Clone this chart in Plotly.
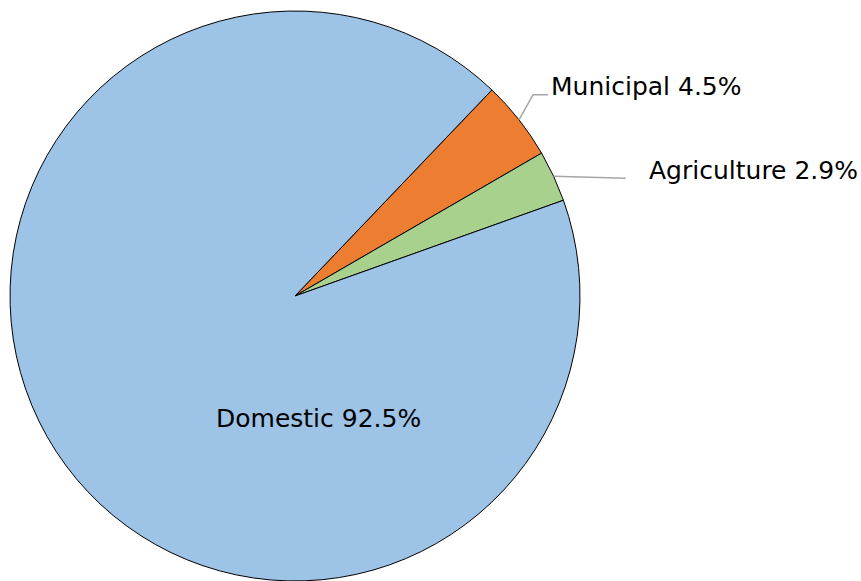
import math

import plotly.graph_objects as go

# slice data, in drawing order (clockwise from the start angle)
labels = ["Municipal", "Agriculture", "Domestic"]
values = [4.5, 2.9, 92.5]
colors = ["#ED7D31", "#A9D18E", "#9DC3E6"]
start_angle = 43.7  # degrees clockwise from 12 o'clock

W, H = 861, 581
cx, cy, r = 295, 296, 285  # pie centre and radius in pixels

FONT = "DejaVu Sans"


def px_to_paper(x, y):
    return x / W, 1 - y / H


fig = go.Figure()
fig.add_trace(
    go.Pie(
        labels=labels,
        values=values,
        sort=False,
        direction="clockwise",
        rotation=start_angle,
        marker={"colors": colors, "line": {"color": "#000000", "width": 1}},
        textinfo="none",
        hoverinfo="label+percent",
        domain={"x": [(cx - r) / W, (cx + r) / W], "y": [1 - (cy + r) / H, 1 - (cy - r) / H]},
        showlegend=False,
    )
)

# mid angle of each slice, for the outside labels and leader lines
total = sum(values)
mids = []
acc = start_angle
for v in values:
    span = v / total * 360
    mids.append(acc + span / 2)
    acc += span


def edge_point(angle, radius):
    a = math.radians(angle)
    return cx + radius * math.sin(a), cy - radius * math.cos(a)


line_style = {"color": "#A6A6A6", "width": 1.5}

# Municipal: elbow leader
x0, y0 = edge_point(mids[0], r)
xe, ye = x0 + 14, y0 - 25
pts = [px_to_paper(x0, y0), px_to_paper(xe, ye), px_to_paper(xe + 15, ye)]
path = "M {} {} L {} {} L {} {}".format(pts[0][0], pts[0][1], pts[1][0], pts[1][1], pts[2][0], pts[2][1])
fig.add_shape(type="path", path=path, xref="paper", yref="paper", line=line_style)
lx, ly = px_to_paper(xe + 16, ye - 8)
fig.add_annotation(
    x=lx, y=ly, xref="paper", yref="paper", xanchor="left", yanchor="middle",
    text=f"{labels[0]} {values[0]}%", showarrow=False,
)

# Agriculture: straight leader
x1, y1 = edge_point(mids[1], r)
a0 = px_to_paper(x1, y1)
a1 = px_to_paper(x1 + 72, y1 + 2)
fig.add_shape(type="line", x0=a0[0], y0=a0[1], x1=a1[0], y1=a1[1], xref="paper", yref="paper", line=line_style)
lx, ly = px_to_paper(x1 + 93, y1 - 6)
fig.add_annotation(
    x=lx, y=ly, xref="paper", yref="paper", xanchor="left", yanchor="middle",
    text=f"{labels[1]} {values[1]}%", showarrow=False,
)

# Domestic: label inside the big slice
dx, dy = px_to_paper(318, 418)
fig.add_annotation(
    x=dx, y=dy, xref="paper", yref="paper", xanchor="center", yanchor="middle",
    text=f"{labels[2]} {values[2]}%", showarrow=False,
)

fig.update_layout(
    autosize=True,
    margin={"l": 0, "r": 0, "t": 0, "b": 0},
    paper_bgcolor="#FFFFFF",
    plot_bgcolor="#FFFFFF",
    font={"family": FONT, "size": 25, "color": "#000000"},
)

fig.write_html("out.html", config={"responsive": True, "displayModeBar": False},
               default_width="100%", default_height="100%",
               post_script="document.body.style.margin='0';document.documentElement.style.height='100%';document.body.style.height='100%';window.dispatchEvent(new Event('resize'));")
